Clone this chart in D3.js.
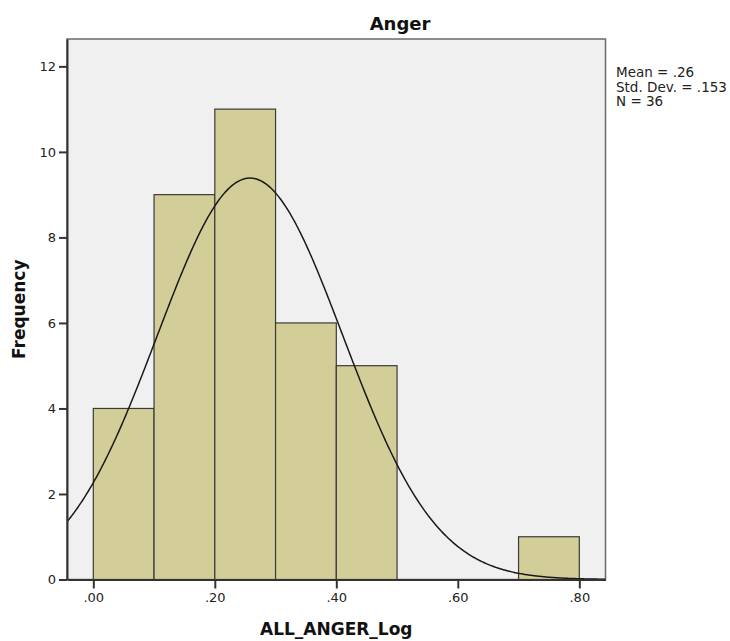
<!DOCTYPE html>
<html>
<head>
<meta charset="utf-8">
<script src="https://cdn.jsdelivr.net/npm/d3@7"></script>
<style>
  body { margin: 0; background: #fff; }
  text { font-family: "DejaVu Sans", sans-serif; }
  .axisTitle { font-size: 17px; font-weight: bold; fill: #111; }
</style>
</head>
<body>
<div id="chart"></div>
<script>
// histogram bins (left edge, right edge, count)
var binStarts = [0.0, 0.1, 0.2, 0.3, 0.4, 0.5, 0.6, 0.7];
var binEnds = [0.1, 0.2, 0.3, 0.4, 0.5, 0.6, 0.7, 0.8];
var counts = [4, 9, 11, 6, 5, 0, 0, 1];

var xTicks = [0, 0.2, 0.4, 0.6, 0.8];
var yTicks = [0, 2, 4, 6, 8, 10, 12];

var mean = 0.258;
var stdDev = 0.153;
var n = 36;
var binWidth = 0.1;

var svgWidth = 730;
var svgHeight = 641;

var plot = { left: 67, right: 605.5, top: 39, bottom: 579.5 };

var svg = d3.select("#chart")
  .append("svg")
  .attr("width", svgWidth)
  .attr("height", svgHeight);

var xScale = d3.scaleLinear()
  .domain([-0.0433, 0.8431])
  .range([plot.left, plot.right]);

var yScale = d3.scaleLinear()
  .domain([0, 12.64])
  .range([plot.bottom, plot.top]);

// plot background
svg.append("rect")
  .attr("x", plot.left)
  .attr("y", plot.top)
  .attr("width", plot.right - plot.left)
  .attr("height", plot.bottom - plot.top)
  .attr("fill", "#f0f0f0")
  .attr("stroke", "#6a6a6a")
  .attr("stroke-width", 1.5);

svg.append("clipPath").attr("id", "clip")
  .append("rect")
  .attr("x", plot.left)
  .attr("y", plot.top)
  .attr("width", plot.right - plot.left)
  .attr("height", plot.bottom - plot.top);

// bars
var bins = counts.map(function(c, i) {
  return { x0: binStarts[i], x1: binEnds[i], count: c };
}).filter(function(d) { return d.count > 0; });

svg.append("g").selectAll("rect").data(bins).enter()
  .append("rect")
  .attr("x", d => xScale(d.x0))
  .attr("y", d => yScale(d.count))
  .attr("width", d => xScale(d.x1) - xScale(d.x0))
  .attr("height", d => yScale(0) - yScale(d.count))
  .attr("fill", "#d3ce98")
  .attr("stroke", "#3a3a3a")
  .attr("stroke-width", 1.2);

// normal curve scaled to frequency
var curveX = d3.range(xScale.domain()[0], xScale.domain()[1] + 0.002, 0.002);
var curveData = curveX.map(function(x) {
  var z = (x - mean) / stdDev;
  return [x, n * binWidth * Math.exp(-0.5 * z * z) / (stdDev * Math.sqrt(2 * Math.PI))];
});

svg.append("path")
  .datum(curveData)
  .attr("clip-path", "url(#clip)")
  .attr("fill", "none")
  .attr("stroke", "#1a1a1a")
  .attr("stroke-width", 1.5)
  .attr("d", d3.line().x(d => xScale(d[0])).y(d => yScale(d[1])));

// axes
var fmtX = function(d) { return d3.format(".2f")(d).replace(/^0/, ""); };

var bottomAxis = d3.axisBottom(xScale)
  .tickValues(xTicks)
  .tickFormat(fmtX)
  .tickSizeInner(9)
  .tickSizeOuter(0)
  .tickPadding(4);

var leftAxis = d3.axisLeft(yScale)
  .tickValues(yTicks)
  .tickFormat(d3.format("d"))
  .tickSizeInner(8)
  .tickSizeOuter(0)
  .tickPadding(3);

var xAxisG = svg.append("g")
  .attr("transform", `translate(0, ${plot.bottom})`)
  .call(bottomAxis);

var yAxisG = svg.append("g")
  .attr("transform", `translate(${plot.left}, 0)`)
  .call(leftAxis);

[xAxisG, yAxisG].forEach(function(g) {
  g.attr("font-size", 13).attr("font-family", "DejaVu Sans");
  g.select(".domain").attr("stroke", "#333").attr("stroke-width", 2);
  g.selectAll(".tick line").attr("stroke", "#333").attr("stroke-width", 2);
  g.selectAll(".tick text").attr("fill", "#222").style("font-size", "13px");
});

// titles
svg.append("text")
  .attr("x", 400)
  .attr("y", 30)
  .attr("text-anchor", "middle")
  .attr("font-size", "18px")
  .attr("font-weight", "bold")
  .attr("fill", "#111")
  .text("Anger");

svg.append("text")
  .attr("class", "axisTitle")
  .attr("x", (plot.left + plot.right) / 2)
  .attr("y", 635)
  .attr("text-anchor", "middle")
  .text("ALL_ANGER_Log");

svg.append("text")
  .attr("class", "axisTitle")
  .attr("transform", `translate(25, ${(plot.top + plot.bottom) / 2}) rotate(-90)`)
  .attr("text-anchor", "middle")
  .text("Frequency");

// summary stats
var statLines = [
  "Mean = " + d3.format(".2f")(mean).replace(/^0/, ""),
  "Std. Dev. = " + d3.format(".3f")(stdDev).replace(/^0/, ""),
  "N = " + n
];

svg.append("g").selectAll("text").data(statLines).enter()
  .append("text")
  .attr("x", 616)
  .attr("y", (d, i) => 77 + i * 14.5)
  .attr("font-size", "13.5px")
  .attr("fill", "#222")
  .text(d => d);
</script>
</body>
</html>
